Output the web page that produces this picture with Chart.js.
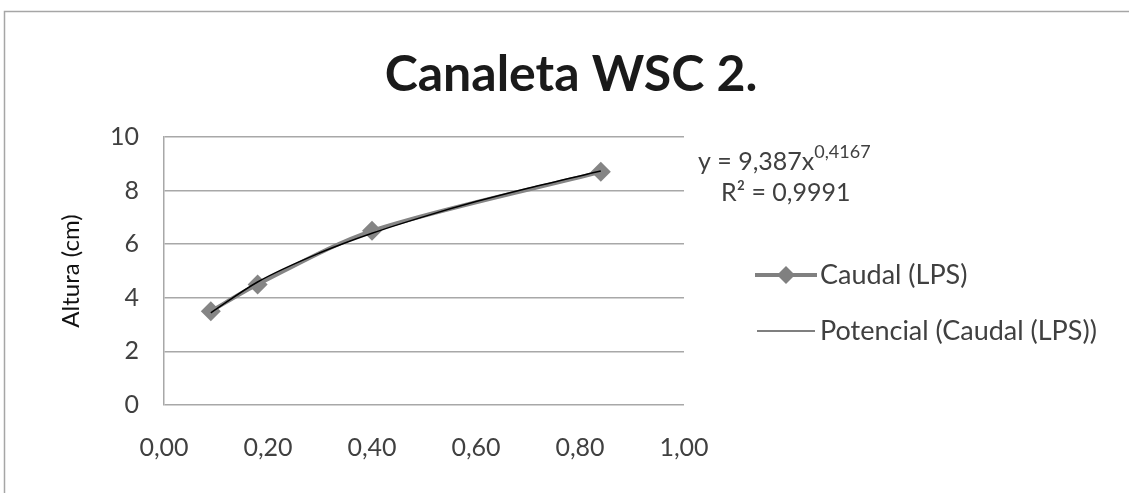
<!DOCTYPE html>
<html>
<head>
<meta charset="utf-8">
<script src="https://cdn.jsdelivr.net/npm/chart.js@4.4.1/dist/chart.umd.min.js"></script>
<style>
  html, body { margin: 0; padding: 0; background: #fff; }
  #wrap { width: 1129px; height: 493px; }
</style>
</head>
<body>
<div id="wrap"><canvas id="chart" width="1129" height="493"></canvas></div>
<script>
// datos
const caudalX = [0.09, 0.18, 0.40, 0.84];
const alturaY = [3.5, 4.5, 6.5, 8.7];

// linea de tendencia potencial
const trendX = [0.09, 0.18, 0.30, 0.40, 0.50, 0.60, 0.70, 0.84];
const trendY = [3.44, 4.59, 5.68, 6.41, 7.03, 7.59, 8.09, 8.73];

const xTicks = ['0,00', '0,20', '0,40', '0,60', '0,80', '1,00'];
const yTicks = ['0', '2', '4', '6', '8', '10'];

const FONT = 'Lato, "Open Sans", sans-serif';
const TXT = '#404040';

// titulo, ecuacion, leyenda y marco
const extras = {
    id: 'extras',
    afterDraw(chart) {
        const ctx = chart.ctx;
        ctx.save();

        // marco
        ctx.strokeStyle = '#a6a6a6';
        ctx.lineWidth = 1.5;
        ctx.beginPath();
        ctx.moveTo(4.5, 493);
        ctx.lineTo(4.5, 11.5);
        ctx.lineTo(1129, 11.5);
        ctx.stroke();

        // titulo
        ctx.fillStyle = '#1a1a1a';
        ctx.font = 'bold 50px ' + FONT;
        ctx.textAlign = 'center';
        ctx.textBaseline = 'middle';
        ctx.fillText('Canaleta WSC 2.', 571, 75);

        // ecuacion
        ctx.fillStyle = TXT;
        ctx.textAlign = 'left';
        ctx.textBaseline = 'alphabetic';
        ctx.font = '25px ' + FONT;
        const eq = 'y = 9,387x';
        ctx.fillText(eq, 698, 170);
        const w = ctx.measureText(eq).width;
        ctx.font = '18px ' + FONT;
        ctx.fillText('0,4167', 698 + w, 158);
        ctx.font = '25px ' + FONT;
        ctx.fillText('R\u00b2 = 0,9991', 721, 201);

        // leyenda
        ctx.strokeStyle = '#808080';
        ctx.lineWidth = 4;
        ctx.beginPath();
        ctx.moveTo(755, 275);
        ctx.lineTo(817, 275);
        ctx.stroke();
        ctx.fillStyle = '#808080';
        ctx.beginPath();
        ctx.moveTo(786, 266);
        ctx.lineTo(795, 275);
        ctx.lineTo(786, 284);
        ctx.lineTo(777, 275);
        ctx.closePath();
        ctx.fill();

        ctx.strokeStyle = '#000';
        ctx.lineWidth = 1.2;
        ctx.beginPath();
        ctx.moveTo(757, 331);
        ctx.lineTo(815, 331);
        ctx.stroke();

        ctx.fillStyle = TXT;
        ctx.font = '27px ' + FONT;
        ctx.textBaseline = 'middle';
        ctx.fillText('Caudal (LPS)', 820, 275);
        ctx.fillText('Potencial (Caudal (LPS))', 820, 331);

        ctx.restore();
    }
};

new Chart(document.getElementById('chart'), {
    type: 'scatter',
    data: {
        datasets: [{
            label: 'Potencial (Caudal (LPS))',
            data: trendX.map((x, i) => ({ x: x, y: trendY[i] })),
            showLine: true,
            borderColor: '#000',
            borderWidth: 1.5,
            pointRadius: 0,
            cubicInterpolationMode: 'monotone',
            order: 0
        }, {
            label: 'Caudal (LPS)',
            data: caudalX.map((x, i) => ({ x: x, y: alturaY[i] })),
            showLine: true,
            borderColor: '#858585',
            backgroundColor: '#858585',
            borderWidth: 4,
            pointStyle: 'rectRot',
            pointRadius: 10,
            pointBorderWidth: 0,
            tension: 0.3,
            order: 1
        }]
    },
    options: {
        responsive: false,
        animation: false,
        layout: { padding: { left: 57, top: 137, right: 445, bottom: 0 } },
        plugins: {
            legend: { display: false },
            tooltip: { enabled: false }
        },
        scales: {
            x: {
                type: 'linear',
                min: 0,
                max: 1,
                afterFit: s => { s.height = 88; },
                afterBuildTicks: s => { s.ticks = xTicks.map((t, i) => ({ value: i * 0.2 })); },
                grid: { display: false, drawTicks: false },
                border: { display: false },
                ticks: {
                    padding: 28,
                    color: TXT,
                    font: { family: FONT, size: 25 },
                    callback: (v, i) => xTicks[i]
                }
            },
            y: {
                min: 0,
                max: 10,
                afterFit: s => { s.width = 107; },
                afterBuildTicks: s => { s.ticks = yTicks.map(t => ({ value: Number(t) })); },
                grid: { color: '#a8a8a8', lineWidth: 1.5, drawTicks: false },
                border: { display: true, color: '#a8a8a8', width: 1.5 },
                title: {
                    display: true,
                    text: 'Altura (cm)',
                    color: '#111',
                    font: { family: FONT, size: 24 },
                    padding: 0
                },
                ticks: {
                    padding: 25,
                    color: TXT,
                    font: { family: FONT, size: 25 },
                    callback: (v, i) => yTicks[i]
                }
            }
        }
    },
    plugins: [extras]
});
</script>
</body>
</html>
